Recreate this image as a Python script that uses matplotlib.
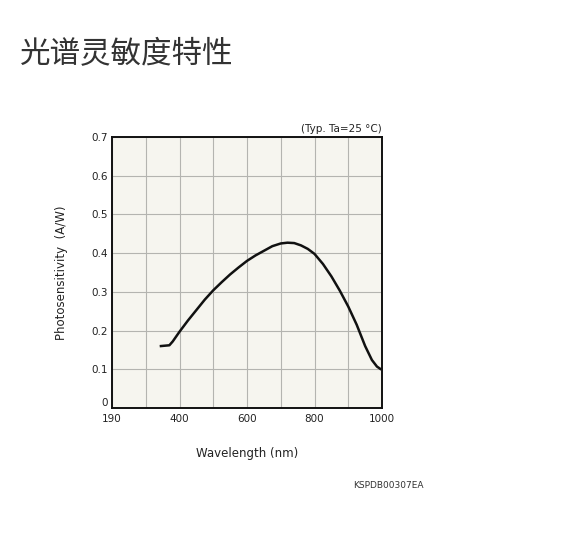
import matplotlib
matplotlib.use('Agg')
import matplotlib.pyplot as plt

# Spectral response data
wavelength = [345, 370, 380, 400, 425, 450, 475, 500, 525, 550, 575, 600, 625, 650, 675,
              700, 720, 740, 760, 780, 800, 825, 850, 875, 900, 925, 950, 970, 985, 995]
sensitivity = [0.160, 0.162, 0.172, 0.197, 0.226, 0.253, 0.280, 0.304, 0.325, 0.345,
               0.363, 0.380, 0.394, 0.406, 0.418, 0.425, 0.427, 0.426, 0.420, 0.411,
               0.398, 0.372, 0.340, 0.303, 0.262, 0.215, 0.160, 0.124, 0.107, 0.101]

xtick_pos = [200, 400, 600, 800, 1000]
xtick_lbl = ['190', '400', '600', '800', '1000']
ytick_pos = [0, 0.1, 0.2, 0.3, 0.4, 0.5, 0.6, 0.7]
ytick_lbl = ['0', '0.1', '0.2', '0.3', '0.4', '0.5', '0.6', '0.7']

plt.rcParams['font.family'] = ['Noto Sans CJK SC', 'DejaVu Sans']

fig = plt.figure(figsize=(5.87, 5.56), dpi=100)
fig.patch.set_facecolor('white')

ax = fig.add_axes([0.1908, 0.2662, 0.46, 0.4874])
ax.set_facecolor('#f6f5ef')
ax.set_xlim(200, 1000)
ax.set_ylim(0, 0.7)
ax.set_xticks(range(200, 1001, 100), minor=True)
ax.set_xticks(xtick_pos)
ax.set_xticklabels(xtick_lbl, fontsize=7.5, family='DejaVu Sans')
ax.set_yticks(ytick_pos)
ax.set_yticklabels(ytick_lbl, fontsize=7.5, family='DejaVu Sans')
ax.get_yticklabels()[0].set_va('bottom')
ax.tick_params(which='both', length=0, colors='#222222')
ax.tick_params(axis='x', pad=4)
ax.tick_params(axis='y', pad=3)
ax.grid(True, which='both', color='#b4b4b0', linewidth=0.8)
ax.set_axisbelow(True)
for s in ax.spines.values():
    s.set_linewidth(1.4)
    s.set_color('#111111')

ax.plot(wavelength, sensitivity, color='#111111', linewidth=1.8)

ax.set_xlabel('Wavelength (nm)', fontsize=8.5, family='DejaVu Sans', labelpad=17, color='#222222')
ax.set_ylabel('Photosensitivity  (A/W)', fontsize=8.5, family='DejaVu Sans', labelpad=17, color='#222222')
ax.text(1.0, 1.012, '(Typ. Ta=25 °C)', transform=ax.transAxes, ha='right', va='bottom',
        fontsize=7.5, family='DejaVu Sans', color='#222222')

fig.text(20 / 587, 1 - 55 / 556, '光谱灵敏度特性', fontsize=22, color='#333333', ha='left', va='center')
fig.text(424 / 587, 1 - 486 / 556, 'KSPDB00307EA', fontsize=6.5, family='DejaVu Sans',
         color='#333333', ha='right', va='center')

fig.savefig('out.png', dpi=100)
